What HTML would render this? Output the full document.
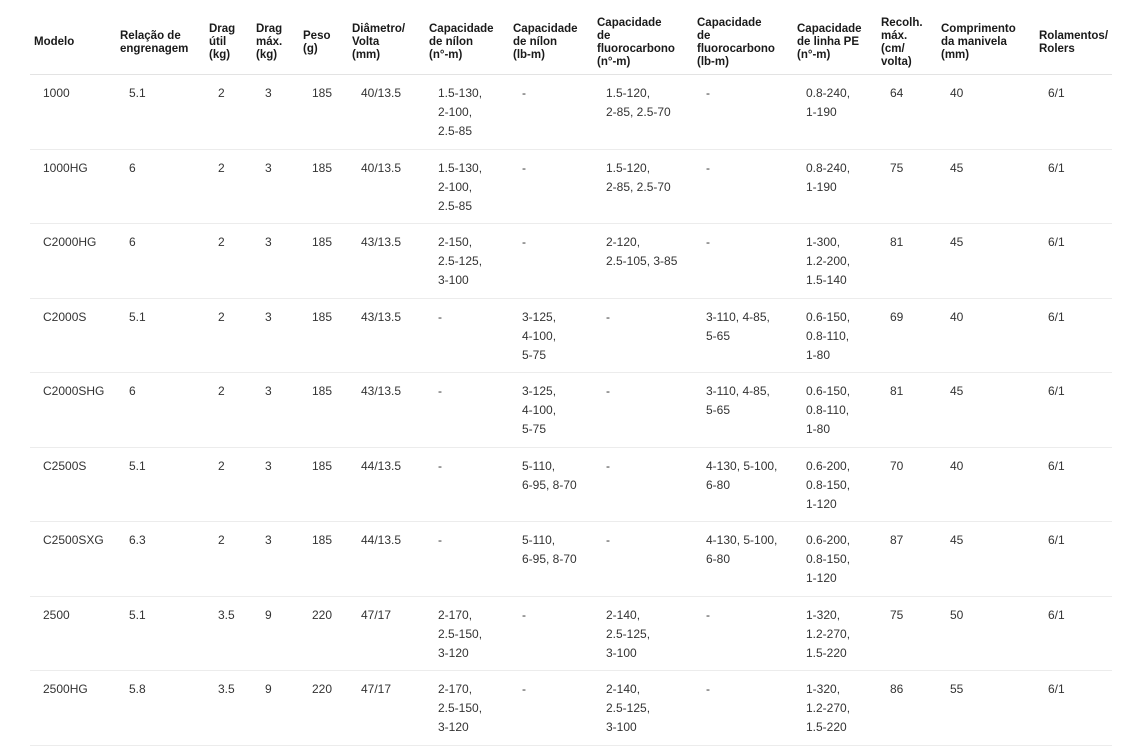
<!DOCTYPE html>
<html><head><meta charset="utf-8">
<style>
html,body{margin:0;padding:0;background:#fff;width:1126px;height:747px;overflow:hidden}
table{position:absolute;left:30px;top:0;border-collapse:collapse;table-layout:fixed;width:1082px;font-family:"Liberation Sans",sans-serif;color:#222}
th{font-size:11.5px;font-weight:bold;line-height:13px;text-align:left;vertical-align:middle;padding:11px 0 0 4px;height:63px;border-bottom:1px solid #e3e3e3;white-space:nowrap;color:#1a1a1a}
td{font-size:12px;line-height:19px;vertical-align:top;padding:9px 0 0 13px;height:64.5px;border-bottom:1px solid #ececec;white-space:nowrap;color:#333}
</style></head><body>
<table>
<colgroup><col style="width:86px"><col style="width:89px"><col style="width:47px"><col style="width:47px"><col style="width:49px"><col style="width:77px"><col style="width:84px"><col style="width:84px"><col style="width:100px"><col style="width:100px"><col style="width:84px"><col style="width:60px"><col style="width:98px"><col style="width:77px"></colgroup>
<tr><th>Modelo</th><th>Relação de<br>engrenagem</th><th>Drag<br>útil<br>(kg)</th><th>Drag<br>máx.<br>(kg)</th><th>Peso<br>(g)</th><th>Diâmetro/<br>Volta<br>(mm)</th><th>Capacidade<br>de nílon<br>(n°-m)</th><th>Capacidade<br>de nílon<br>(lb-m)</th><th>Capacidade<br>de<br>fluorocarbono<br>(n°-m)</th><th>Capacidade<br>de<br>fluorocarbono<br>(lb-m)</th><th>Capacidade<br>de linha PE<br>(n°-m)</th><th>Recolh.<br>máx.<br>(cm/<br>volta)</th><th>Comprimento<br>da manivela<br>(mm)</th><th>Rolamentos/<br>Rolers</th></tr>
<tr><td>1000</td><td>5.1</td><td>2</td><td>3</td><td>185</td><td>40/13.5</td><td>1.5-130,<br>2-100,<br>2.5-85</td><td>-</td><td>1.5-120,<br>2-85, 2.5-70</td><td>-</td><td>0.8-240,<br>1-190</td><td>64</td><td>40</td><td>6/1</td></tr>
<tr><td>1000HG</td><td>6</td><td>2</td><td>3</td><td>185</td><td>40/13.5</td><td>1.5-130,<br>2-100,<br>2.5-85</td><td>-</td><td>1.5-120,<br>2-85, 2.5-70</td><td>-</td><td>0.8-240,<br>1-190</td><td>75</td><td>45</td><td>6/1</td></tr>
<tr><td>C2000HG</td><td>6</td><td>2</td><td>3</td><td>185</td><td>43/13.5</td><td>2-150,<br>2.5-125,<br>3-100</td><td>-</td><td>2-120,<br>2.5-105, 3-85</td><td>-</td><td>1-300,<br>1.2-200,<br>1.5-140</td><td>81</td><td>45</td><td>6/1</td></tr>
<tr><td>C2000S</td><td>5.1</td><td>2</td><td>3</td><td>185</td><td>43/13.5</td><td>-</td><td>3-125,<br>4-100,<br>5-75</td><td>-</td><td>3-110, 4-85,<br>5-65</td><td>0.6-150,<br>0.8-110,<br>1-80</td><td>69</td><td>40</td><td>6/1</td></tr>
<tr><td>C2000SHG</td><td>6</td><td>2</td><td>3</td><td>185</td><td>43/13.5</td><td>-</td><td>3-125,<br>4-100,<br>5-75</td><td>-</td><td>3-110, 4-85,<br>5-65</td><td>0.6-150,<br>0.8-110,<br>1-80</td><td>81</td><td>45</td><td>6/1</td></tr>
<tr><td>C2500S</td><td>5.1</td><td>2</td><td>3</td><td>185</td><td>44/13.5</td><td>-</td><td>5-110,<br>6-95, 8-70</td><td>-</td><td>4-130, 5-100,<br>6-80</td><td>0.6-200,<br>0.8-150,<br>1-120</td><td>70</td><td>40</td><td>6/1</td></tr>
<tr><td>C2500SXG</td><td>6.3</td><td>2</td><td>3</td><td>185</td><td>44/13.5</td><td>-</td><td>5-110,<br>6-95, 8-70</td><td>-</td><td>4-130, 5-100,<br>6-80</td><td>0.6-200,<br>0.8-150,<br>1-120</td><td>87</td><td>45</td><td>6/1</td></tr>
<tr><td>2500</td><td>5.1</td><td>3.5</td><td>9</td><td>220</td><td>47/17</td><td>2-170,<br>2.5-150,<br>3-120</td><td>-</td><td>2-140,<br>2.5-125,<br>3-100</td><td>-</td><td>1-320,<br>1.2-270,<br>1.5-220</td><td>75</td><td>50</td><td>6/1</td></tr>
<tr><td>2500HG</td><td>5.8</td><td>3.5</td><td>9</td><td>220</td><td>47/17</td><td>2-170,<br>2.5-150,<br>3-120</td><td>-</td><td>2-140,<br>2.5-125,<br>3-100</td><td>-</td><td>1-320,<br>1.2-270,<br>1.5-220</td><td>86</td><td>55</td><td>6/1</td></tr>
</table>
</body></html>
